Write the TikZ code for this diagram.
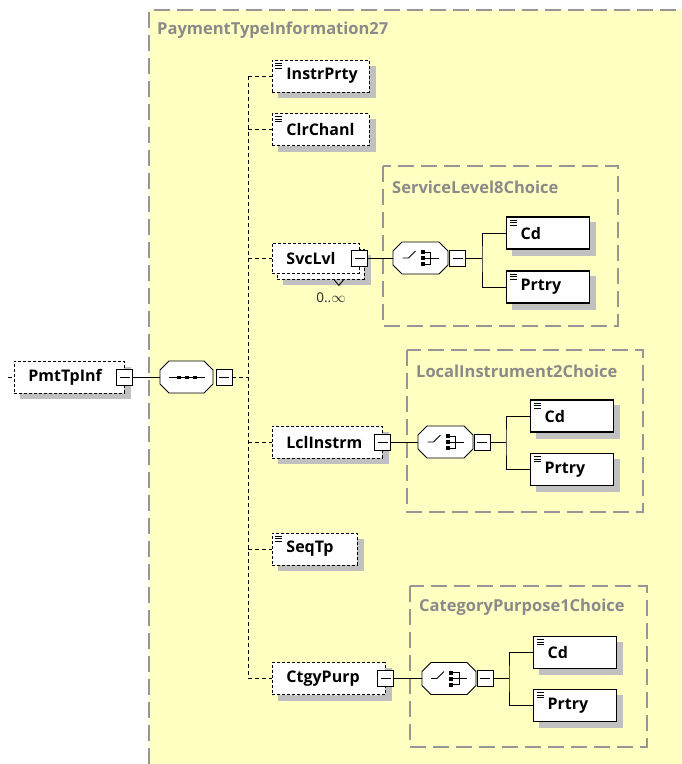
\documentclass[tikz,border=0pt]{standalone}
\usepackage{fontspec}
\setmainfont{Open Sans}
\usepackage{tikz}
\usetikzlibrary{calc}
\definecolor{yellowbg}{RGB}{255,255,194}
\definecolor{shadowgray}{RGB}{192,192,192}
\definecolor{framegray}{RGB}{150,150,150}
\definecolor{titlegray}{RGB}{138,138,138}
\pgfdeclarelayer{bg}
\pgfdeclarelayer{shadowlayer}
\pgfsetlayers{bg,shadowlayer,main}
% octagon round a compositor node, shifted by #3
\newcommand{\compframe}[3][fill=white]{%
  \filldraw[link, #1, shift={#3}] ([yshift=-9pt]#2.north west) -- ([xshift=9pt]#2.north west)
    -- ([xshift=-9pt]#2.north east) -- ([yshift=-9pt]#2.north east)
    -- ([yshift=9pt]#2.south east) -- ([xshift=-9pt]#2.south east)
    -- ([xshift=9pt]#2.south west) -- ([yshift=9pt]#2.south west) -- cycle;}
\tikzset{
  elem/.style={
    rectangle,
    draw,
    line width=0.9pt,
    dash pattern=on 3pt off 2pt,
    fill=white,
    anchor=west,
    minimum height=32pt,
    inner xsep=14pt,
    text width=#1,
    align=left,
    font=\fontsize{16}{19}\selectfont\bfseries
  },
  leaf/.style={
    elem=#1,
    solid,
    line width=1.3pt
  },
  simple/.style={
    path picture={
      \foreach \k in {3,5.5,8}
        \draw[solid, line width=0.9pt] ([shift={(3pt,-\k pt)}]path picture bounding box.north west) -- ++(7pt,0pt);
    }
  },
  expander/.style={
    rectangle,
    draw,
    solid,
    fill=white,
    line width=0.9pt,
    minimum width=16pt,
    minimum height=16pt,
    inner sep=0pt,
    path picture={
      \draw[line width=0.9pt] ([xshift=3pt]path picture bounding box.west) -- ([xshift=-3pt]path picture bounding box.east);
    }
  },
  compositor/.style={
    rectangle,
    minimum width=#1,
    minimum height=32pt,
    inner sep=0pt,
    outer sep=0pt
  },
  group/.style={
    draw=framegray,
    line width=1.1pt,
    dash pattern=on 16pt off 7pt
  },
  grouptitle/.style={
    anchor=west,
    inner sep=0pt,
    text=titlegray,
    font=\fontsize{16.5}{19}\selectfont\bfseries
  },
  bus/.style={
    line width=0.9pt,
    dash pattern=on 4pt off 3pt
  },
  link/.style={
    line width=0.9pt
  },
  seqicon/.pic={
    \draw[line width=0.9pt] (-18,0) -- (18,0);
    \foreach \dx in {-8,0,8}
      \fill (\dx-2,-1.5) rectangle (\dx+2,1.5);
  },
  choiceicon/.pic={
    \draw[line width=0.9pt] (-18,0) -- (-12,0) -- (-5,-7);
    \foreach \dy in {-6,0,6}
      \fill (0,\dy-2) rectangle (4,\dy+2);
    \draw[line width=0.9pt] (4,-6) -- (10,-6) -- (10,6) -- (4,6) (4,0) -- (18,0);
  }
}
\begin{document}
\begin{tikzpicture}[x=1pt, y=-1pt]
  \useasboundingbox (0,0) rectangle (681,764);
  % type area
  \begin{pgfonlayer}{bg}
    \fill[yellowbg] (149,10) rectangle (681,764);
    \draw[group] (149,764) -- (149,10) -- (681,10);
    \draw[group] (383,166) rectangle (618,326);
    \draw[group] (407,350) rectangle (643,512);
    \draw[group] (410,586) rectangle (647,747);
  \end{pgfonlayer}
  \node[grouptitle] (ptit) at (157,30) {PaymentTypeInformation27};

  % root and sequence
  \node[elem=82pt] (root) at (14,377) {PmtTpInf};
  \node[expander] (rootx) at (root.east) {};
  \coordinate (rootin) at (8,377);
  \draw[bus] (rootin) -- (root.west);
  \node[compositor=53pt] (seq) at (186.5,377) {};
  \compframe{seq}{(0,0)}
  \pic at (seq) {seqicon};
  \node[expander] (seqx) at (224,377) {};
  \draw[link] (rootx) -- (seq);
  \coordinate (hub) at (248,377);
  \draw[bus] (seqx) -- (hub);

  % children
  \node[elem=69pt, simple] (instr) at (272,76) {InstrPrty};
  \node[elem=69pt, simple] (clr) at (272,129.5) {ClrChanl};
  \node[elem=59pt, minimum height=30pt] (svcback) at (277,264) {};
  \node[elem=59pt, minimum height=30pt] (svc) at (272,258) {SvcLvl};
  \node[expander] (svcx) at (svc.east) {};
  \draw[link] ([xshift=-31pt]svcback.south east) -- ++(5,6) -- ++(5,-6);
  \node[font=\fontsize{13.5}{15}\selectfont, text=black!85] (svcocc) at (331,298) {0..$\infty$};
  \node[elem=82pt] (lcl) at (272,442) {LclInstrm};
  \node[expander] (lclx) at (lcl.east) {};
  \node[elem=57pt, simple] (seqtp) at (272,549) {SeqTp};
  \node[elem=85pt] (ctgy) at (272,678.5) {CtgyPurp};
  \node[expander] (ctgyx) at (ctgy.east) {};
  \draw[bus] (hub |- instr.west) -- (hub |- ctgy.west);
  \foreach \n in {instr,clr,svc,lcl,seqtp,ctgy}
    \draw[bus] (hub |- \n.west) -- (\n.west);

  % ServiceLevel8Choice
  \node[grouptitle] (sltit) at (392,187) {ServiceLevel8Choice};
  \node[compositor=55pt] (slch) at (420.5,258) {};
  \compframe{slch}{(0,0)}
  \pic at (slch) {choiceicon};
  \node[expander] (slchx) at (457.5,258) {};
  \coordinate (slfork) at (482,258);
  \node[leaf=55pt, simple] (slcd) at (506,233) {Cd};
  \node[leaf=55pt, simple] (slprtry) at (506,287) {Prtry};
  \draw[link] (svcx) -- (slch);
  \draw[link] (slchx) -- (slfork);
  \draw[link] (slcd.west) -| (slfork) |- (slprtry.west);

  % LocalInstrument2Choice
  \node[grouptitle] (litit) at (416,371) {LocalInstrument2Choice};
  \node[compositor=55pt] (lich) at (445.5,442) {};
  \compframe{lich}{(0,0)}
  \pic at (lich) {choiceicon};
  \node[expander] (lichx) at (482,442) {};
  \coordinate (lifork) at (506,442);
  \node[leaf=55pt, simple] (licd) at (530,416) {Cd};
  \node[leaf=55pt, simple] (liprtry) at (530,469.5) {Prtry};
  \draw[link] (lclx) -- (lich);
  \draw[link] (lichx) -- (lifork);
  \draw[link] (licd.west) -| (lifork) |- (liprtry.west);

  % CategoryPurpose1Choice
  \node[grouptitle] (cptit) at (419,607) {CategoryPurpose1Choice};
  \node[compositor=54pt] (cpch) at (449,678.5) {};
  \compframe{cpch}{(0,0)}
  \pic at (cpch) {choiceicon};
  \node[expander] (cpchx) at (485,678.5) {};
  \coordinate (cpfork) at (509,678.5);
  \node[leaf=55pt, simple] (cpcd) at (533,652.5) {Cd};
  \node[leaf=55pt, simple] (cpprtry) at (533,705.5) {Prtry};
  \draw[link] (ctgyx) -- (cpch);
  \draw[link] (cpchx) -- (cpfork);
  \draw[link] (cpcd.west) -| (cpfork) |- (cpprtry.west);

  % shadows
  \begin{pgfonlayer}{shadowlayer}
    \foreach \n in {root,instr,clr,svcback,lcl,seqtp,ctgy,slcd,slprtry,licd,liprtry,cpcd,cpprtry}
      {\fill[shadowgray] ([shift={(6pt,-6pt)}]\n.south west) rectangle ([shift={(6pt,-6pt)}]\n.north east);}
    \foreach \n in {seq,slch,lich,cpch}
      {\compframe[fill=shadowgray, draw=none]{\n}{(6,6)}}
  \end{pgfonlayer}
\end{tikzpicture}
\end{document}
